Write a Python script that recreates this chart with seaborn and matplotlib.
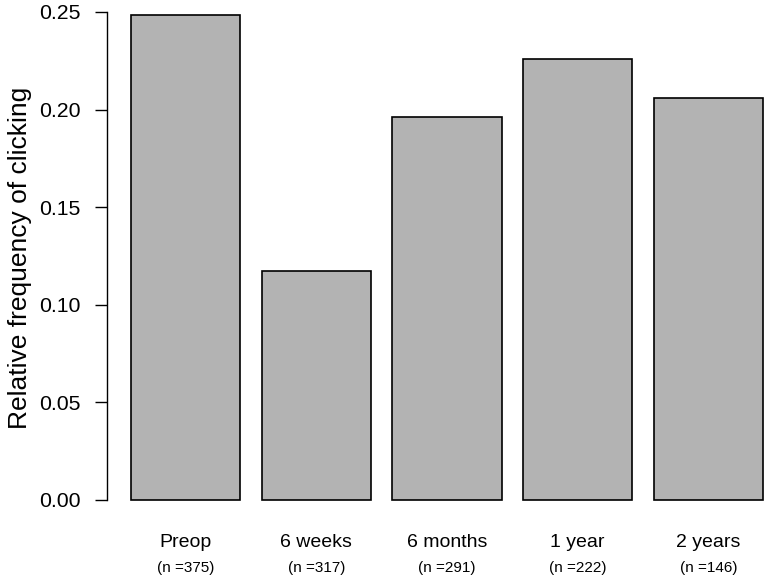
import matplotlib
matplotlib.use("Agg")
import matplotlib.pyplot as plt
import seaborn as sns
import pandas as pd

# ── data ─────────────────────────────────────────────────────────────────────
timepoints = ["Preop", "6 weeks", "6 months", "1 year", "2 years"]
n_patients = [375, 317, 291, 222, 146]
click_freq = [0.2485, 0.1173, 0.1962, 0.2259, 0.2059]
y_ticks = [0.00, 0.05, 0.10, 0.15, 0.20, 0.25]

df = pd.DataFrame({"timepoint": timepoints, "freq": click_freq})

# ── plot ─────────────────────────────────────────────────────────────────────
sns.set_style("white", {"text.color": "black", "axes.labelcolor": "black",
                        "ytick.color": "black", "xtick.color": "black"})
plt.rcParams["font.family"] = ["Liberation Sans", "DejaVu Sans"]

fig = plt.figure(figsize=(7.64, 5.76), dpi=100)
# axes extends past the right edge on purpose (R-style plot region, cropped)
ax = fig.add_axes([106.5 / 764, (576 - 519.3) / 576, (788 - 106.5) / 764, 523.7 / 576])

sns.barplot(data=df, x="timepoint", y="freq", ax=ax, color="#b3b3b3",
            saturation=1, width=0.834, edgecolor="black", linewidth=1.2)

ax.set_xlim(-0.604, 4.608)
ax.set_ylim(-0.0099, 0.2584)

for sp in ["top", "right", "bottom"]:
    ax.spines[sp].set_visible(False)
ax.spines["left"].set_bounds(0, 0.25)
ax.spines["left"].set_color("black")
ax.spines["left"].set_linewidth(1.0)

ax.set_yticks(y_ticks)
ax.set_yticklabels([f"{t:.2f}" for t in y_ticks], fontsize=15.3, color="black")
ax.tick_params(axis="y", left=True, length=8.6, width=1.0, color="black", pad=10)
ax.set_xticks([])
ax.set_xlabel("")
ax.set_ylabel("Relative frequency of clicking", fontsize=19, color="black")
ax.yaxis.set_label_coords(-0.1093, 0.5)

# category names and sample sizes below the bars
for i, (name, n) in enumerate(zip(timepoints, n_patients)):
    ax.annotate(name, (i, 0), xytext=(0, -34), textcoords="offset points",
                fontsize=14, ha="center", va="baseline", color="black")
    ax.annotate(f"(n ={n})", (i, 0), xytext=(0, -51.6), textcoords="offset points",
                fontsize=11, ha="center", va="baseline", color="black")

plt.savefig("out.png", dpi=100)
